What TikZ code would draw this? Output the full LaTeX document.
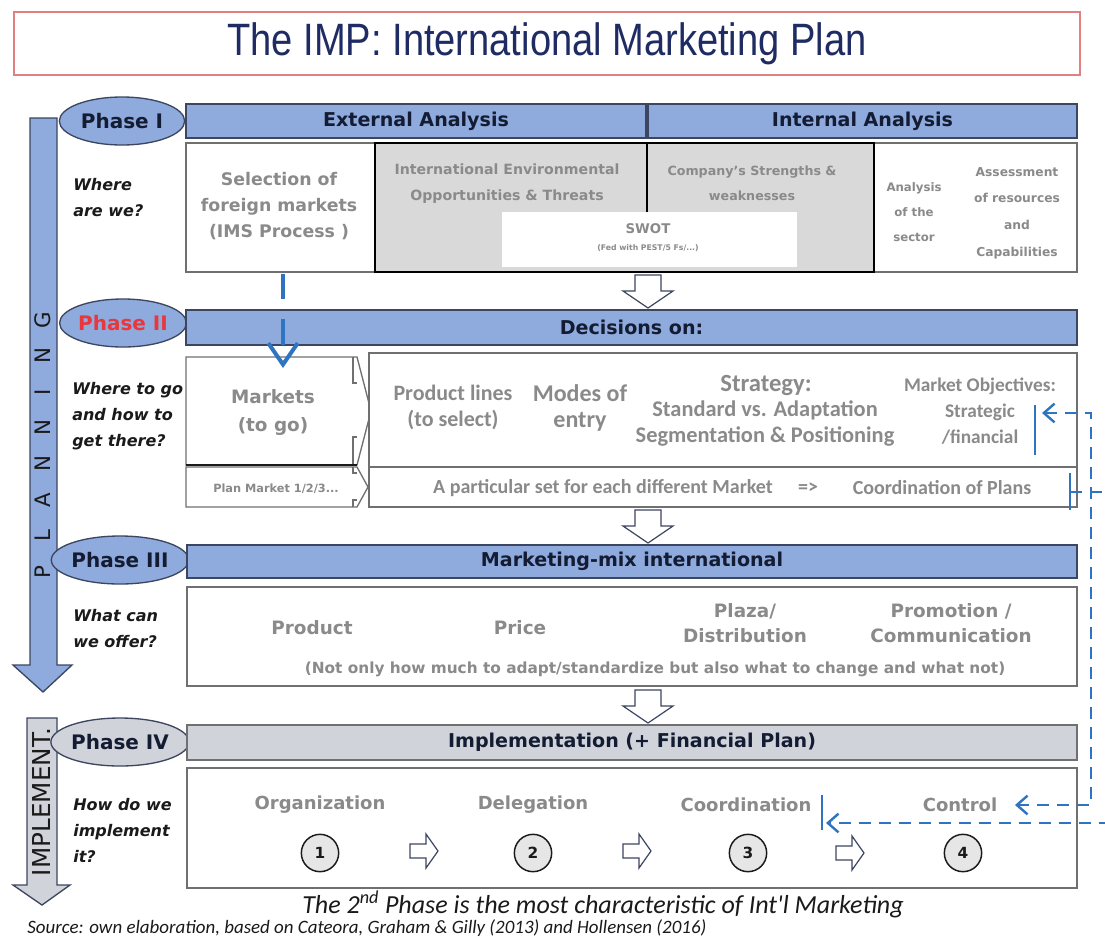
\documentclass[tikz,border=0pt]{standalone}
\usepackage{fontspec}
\setmainfont{DejaVu Sans}
\newfontfamily\calf{Carlito}
\newfontfamily\titlef[FakeStretch=0.84]{Liberation Sans}
\usetikzlibrary{shapes.geometric,arrows.meta,fit}
\newcommand\fsz[2]{\fontsize{#1}{#2}\selectfont}
\definecolor{barblue}{HTML}{8FAADC}
\definecolor{bardk}{HTML}{3C4660}
\definecolor{implgray}{HTML}{D0D4DA}
\definecolor{boxgray}{HTML}{707070}
\definecolor{txtgray}{HTML}{8A8A8A}
\definecolor{hdark}{HTML}{141C33}
\definecolor{phred}{HTML}{E8383D}
\definecolor{swotgray}{HTML}{D9D9D9}
\definecolor{fbblue}{HTML}{2F74C0}
\definecolor{titlered}{HTML}{E08080}
\definecolor{titleblue}{HTML}{1F2B63}
\definecolor{circgray}{HTML}{E6E6E6}
\definecolor{qdark}{HTML}{1A1A1A}
\newcommand\darr[2]{\draw[blockarr,shift={(#1,#2)}] (-13,0) -- (13,0) -- (13,16) -- (25,16) -- (0,33) -- (-25,16) -- (-13,16) -- cycle;}
\newcommand\rarr[2]{\draw[blockarr,shift={(#1,#2)}] (0,-7) -- (16,-7) -- (16,-17) -- (28,0) -- (16,17) -- (16,7) -- (0,7) -- cycle;}
\begin{document}
\begin{tikzpicture}[x=0.75pt,y=-0.75pt,
  bar/.style={draw=bardk, line width=1.1pt, fill=barblue, inner sep=0},
  graybar/.style={draw=boxgray, line width=1.1pt, fill=implgray, inner sep=0},
  cbox/.style={draw=boxgray, line width=1pt, fill=white, inner sep=0},
  htxt/.style={text=hdark, font=\bfseries\fsz{14.3}{17}, inner sep=0},
  gtxt/.style={text=txtgray, align=center, inner sep=0},
  ctxt/.style={text=txtgray, align=center, inner sep=0},
  phase/.style={ellipse, draw=bardk, line width=1pt, fill=barblue, minimum width=94pt, minimum height=36pt, inner sep=0, font=\bfseries\fsz{15}{17}, text=hdark},
  q/.style={font=\bfseries\itshape\fsz{12}{19.5}, text=qdark, align=left, anchor=west, inner sep=0},
  blockarr/.style={draw=bardk, line width=0.9pt, fill=white},
  bigarrow/.style={draw=bardk, line width=1pt},
  fb/.style={draw=fbblue, line width=1.8pt, dash pattern=on 9pt off 6pt},
  fbbar/.style={draw=fbblue, line width=1.8pt},
  numc/.style={circle, draw=qdark, line width=1.1pt, fill=circgray, minimum size=28pt, inner sep=0, font=\bfseries\fsz{11.5}{13}, text=qdark}
]
\useasboundingbox (0,0) rectangle (1105,943);
\clip (0,0) rectangle (1105,943);
\fill[white] (0,0) rectangle (1105,943);

% title
\node[fit={(14,12)(1080,75)}, inner sep=0, draw=titlered, line width=0.9pt] (title) {};
\node[font=\titlef\fsz{34}{38}, text=titleblue] at (title.center) {The IMP: International Marketing Plan};

% PLANNING arrow
\draw[bigarrow, fill=barblue] (30,118) -- (57,118) -- (57,665) -- (72,665) -- (43,692) -- (13,665) -- (30,665) -- cycle;
\foreach \l [count=\i from 0] in {P,L,A,N,N,I,N,G}
  \node[rotate=90, font=\fsz{16}{18}, text=qdark, inner sep=0] at (43,{572-36*\i}) {\l};

% IMPLEMENT arrow
\draw[bigarrow, fill=implgray] (27,718) -- (57,718) -- (57,885) -- (70,885) -- (42,905) -- (13,885) -- (27,885) -- cycle;
\node[rotate=90, font=\fsz{18.5}{20}, text=qdark, inner sep=0] at (42,802) {IMPLEMENT.};

% ===== Phase I =====
\node[phase] (p1) at (122,121) {Phase I};
\node[bar, fit={(186,104)(646,138)}] (ext) {};
\node[bar, fit={(648,104)(1077,138)}] (int) {};
\node[htxt] at (ext.center) {External Analysis};
\node[htxt] at (int.center) {Internal Analysis};

\node[cbox, fit={(186,143)(1077,272)}] (p1box) {};
\node[cbox, fit={(186,143)(375,272)}] (sel) {};
\node[draw=black, line width=1.6pt, fill=swotgray, inner sep=0, fit={(375,143)(874,272)}] (swot) {};
\draw[black, line width=1.6pt] (647,143) -- (647,212);
\fill[white] (502,212) rectangle (797,267);
\node[q] at (73,198) {Where\\are we?};
\node[gtxt, font=\bfseries\fsz{13}{19.5}] at (279,206) {Selection of\\foreign markets\\(IMS Process )};
\node[gtxt, font=\bfseries\fsz{10.6}{19.5}] at (507,184) {International Environmental\\Opportunities \& Threats};
\node[gtxt, font=\bfseries\fsz{9.5}{18.75}] at (752,183) {Company's Strengths \&\\weaknesses};
\node[gtxt, font=\bfseries\fsz{10}{12}] at (648,229) {SWOT};
\node[gtxt, font=\bfseries\fsz{5.8}{7}] at (648,248) {(Fed with PEST/5 Fs/...)};
\node[gtxt, font=\bfseries\fsz{8.8}{19}] at (914,212) {Analysis\\of the\\sector};
\node[gtxt, font=\bfseries\fsz{9.2}{20}] at (1017,213) {Assessment\\of resources\\and\\Capabilities};

\darr{648}{275}

% ===== Phase II =====
\node[phase, text=phred] (p2) at (123,323) {Phase II};
\node[bar, fit={(186,310)(1077,345)}] (dec) {};
\node[htxt] at (dec.center) {Decisions on:};

\node[inner sep=0, fit={(186,357)(353,463)}] (mkt) {};
\draw[cbox] (186,357) -- (357,357) -- (371,411) -- (357,465) -- (186,465) -- cycle;
\draw[boxgray, line width=1pt] (353,357) -- (353,383) -- (357,383) (353,465) -- (353,437) -- (357,437);
\draw[qdark, line width=1.4pt] (186,465) -- (357,465);
\node[inner sep=0, fit={(186,467)(357,507)}] (plan) {};
\draw[cbox] (186,467) -- (357,467) -- (368,487) -- (357,507) -- (186,507) -- cycle;
\draw[boxgray, line width=1pt] (353,467) -- (353,473) -- (357,473) (353,507) -- (353,500) -- (357,500);
\node[cbox, fit={(369,353)(1077,467)}] (strat) {};
\node[cbox, fit={(369,467)(1077,507)}] (part) {};

\node[q] at (72,416) {Where to go\\and how to\\get there?};
\node[gtxt, font=\bfseries\fsz{13.8}{21}] at (273,412) {Markets\\(to go)};
\node[gtxt, font=\bfseries\fsz{8.5}{10}] at (276,489) {Plan Market 1/2/3...};
\node[ctxt, font=\calf\bfseries\fsz{16.5}{19.5}] at (453,407) {Product lines\\(to select)};
\node[ctxt, font=\calf\bfseries\fsz{18}{20}] at (580,408) {Modes of\\entry};
\node[ctxt, font=\calf\bfseries\fsz{18.5}{20}] at (766,385) {Strategy:};
\node[ctxt, font=\calf\bfseries\fsz{16.8}{19.5}] at (765,424) {Standard vs. Adaptation\\Segmentation \& Positioning};
\node[ctxt, font=\calf\bfseries\fsz{14.5}{19.5}] at (980,411) {Market Objectives:\\Strategic\\/financial};
\node[ctxt, font=\calf\bfseries\fsz{15}{17}] at (603,488) {A particular set for each different Market};
\node[ctxt, font=\calf\bfseries\fsz{15}{17}] at (808,488) {=>};
\node[ctxt, font=\calf\bfseries\fsz{15}{17}] at (942,488) {Coordination of Plans};

% blue arrow selection -> markets
\coordinate (s1) at (283,274);
\coordinate (mkin) at (283,368);
\draw[draw=fbblue, line width=3pt, dash pattern=on 19pt off 15pt, -{Straight Barb[length=16pt,width=22pt]}] (s1) -- (mkin);

\darr{648}{510}

% ===== Phase III =====
\node[phase] (p3) at (120,560) {Phase III};
\node[bar, fit={(187,545)(1077,578)}] (mix) {};
\node[htxt] at (mix.center) {Marketing-mix international};
\node[cbox, fit={(187,587)(1077,686)}] (mixbox) {};
\node[q] at (73,629) {What can\\we offer?};
\node[gtxt, font=\bfseries\fsz{13.8}{16}] at (312,628) {Product};
\node[gtxt, font=\bfseries\fsz{13.8}{16}] at (520,628) {Price};
\node[gtxt, font=\bfseries\fsz{13.8}{18.75}] at (745,623) {Plaza/\\Distribution};
\node[gtxt, font=\bfseries\fsz{13.8}{18.75}] at (951,623) {Promotion /\\Communication};
\node[gtxt, font=\bfseries\fsz{11.5}{13}] at (655,669) {(Not only how much to adapt/standardize but also what to change and what not)};

\darr{648}{690}

% ===== Phase IV =====
\node[phase, fill=implgray] (p4) at (120,742) {Phase IV};
\node[graybar, fit={(187,725)(1077,760)}] (impl) {};
\node[htxt] at (impl.center) {Implementation (+ Financial Plan)};
\node[cbox, fit={(187,768)(1077,888)}] (implbox) {};
\node[q] at (73,830) {How do we\\implement\\it?};
\node[gtxt, font=\bfseries\fsz{13.5}{16}] (org) at (320,805) {Organization};
\node[gtxt, font=\bfseries\fsz{13.5}{16}] (del) at (533,805) {Delegation};
\node[gtxt, font=\bfseries\fsz{13.5}{16}] (coo) at (746,805) {Coordination};
\node[gtxt, font=\bfseries\fsz{13.5}{16}] (ctl) at (960,805) {Control};
\node[numc] (c1) at (320,853) {1};
\node[numc] (c2) at (533,853) {2};
\node[numc] (c3) at (748,853) {3};
\node[numc] (c4) at (963,853) {4};
\rarr{410}{851}
\rarr{623}{851}
\rarr{836}{853}

% ===== feedback =====
\draw[fbbar] (1035,405) -- (1035,455);
\draw[fbbar] (1070,473) -- (1070,510);
\draw[fbbar] (822,795) -- (822,830);
\coordinate (moT) at (1042,413);
\coordinate (ctT) at (1015,805);
\coordinate (cpS) at (1070,492);
\coordinate (coT) at (826,823);
\draw[fb, {Straight Barb[length=8pt,width=14pt]}-{Straight Barb[length=8pt,width=14pt]}] (moT) -- (1091,413) -- (1091,805) -- (ctT);
\draw[fb, -{Straight Barb[length=8pt,width=14pt]}] (cpS) -- (1115,492) -- (1115,823) -- (coT);

% bottom texts
\node[font=\calf\itshape\fsz{19.5}{22}, text=qdark, inner sep=0] at (603,904) {The 2\textsuperscript{nd} Phase is the most characteristic of Int'l Marketing};
\node[font=\calf\itshape\fsz{14.2}{16}, text=qdark, inner sep=0, anchor=west] at (27,928) {Source: own elaboration, based on Cateora, Graham \& Gilly (2013) and Hollensen (2016)};
\end{tikzpicture}
\end{document}
